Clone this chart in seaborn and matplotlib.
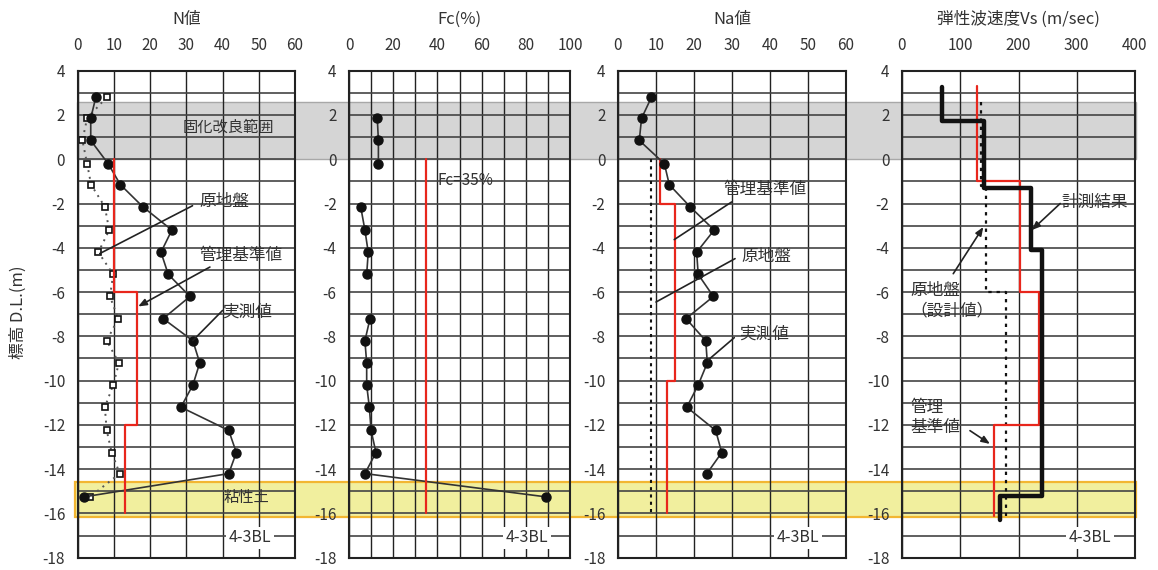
import numpy as np
import pandas as pd
import seaborn as sns
import matplotlib
matplotlib.use("Agg")
import matplotlib.pyplot as plt
from matplotlib.patches import Rectangle
from matplotlib.transforms import blended_transform_factory

# ---------------- data ----------------
depth = [2.8, 1.85, 0.85, -0.2, -1.15, -2.15, -3.2, -4.2, -5.2, -6.2, -7.2,
         -8.2, -9.2, -10.2, -11.2, -12.25, -13.25, -14.2, -15.25]
n_measured = [5, 3.6, 3.6, 8.4, 11.8, 18, 26, 23, 25, 31, 23.6, 31.8, 33.7,
              31.8, 28.5, 41.7, 43.8, 41.7, 1.8]
n_original = [8, 2.6, 1.3, 2.6, 3.7, 7.5, 8.7, 5.7, 9.8, 8.9, 11.2, 8, 11.4,
              9.8, 7.5, 8, 9.4, 11.6, 3.4]
fc_measured = [np.nan, 12.8, 13.3, 13.3, np.nan, 5.3, 7.2, 8.7, 8.0, np.nan,
               9.5, 7.2, 8.0, 8.0, 9.2, 10.0, 12.2, 7.2, 89]
na_measured = [8.8, 6.2, 5.6, 12.2, 13.5, 19, 25.3, 20.7, 21.1, 25.1, 17.9,
               23.1, 23.5, 21.1, 18.1, 25.7, 27.3, 23.4, np.nan]

n_limit_bounds = [0, -6, -12, -16]
n_limit_vals = [10, 16.5, 13]
fc_limit_bounds = [0, -16]
fc_limit_vals = [35]
na_limit_bounds = [0, -2, -10, -16]
na_limit_vals = [11, 15, 13]
na_original_bounds = [0, -16]
na_original_vals = [8.6]
vs_measured_bounds = [3.25, 1.75, -1.3, -4.1, -15.2, -16.3]
vs_measured_vals = [68, 140, 221, 240, 168]
vs_limit_bounds = [3.3, -1.0, -6.0, -12.0, -16.1]
vs_limit_vals = [128, 203, 235, 158]
vs_original_bounds = [2.6, -1.2, -6.0, -16.1]
vs_original_vals = [135, 145, 178]

titles = ["N値", "Fc(%)", "Na値", "弾性波速度Vs (m/sec)"]
xlims = [(0, 60), (0, 100), (0, 60), (0, 400)]
xgrid = [10, 10, 10, 100]
xlabel_step = [10, 20, 10, 100]
improved_zone = (0, 2.6)      # 固化改良範囲
clay_zone = (-16.15, -14.6)   # 粘性土
tag = "4-3BL"

# ---------------- style ----------------
sns.set_style("white")
plt.rcParams["font.family"] = ["Noto Sans CJK JP", "DejaVu Sans"]
TXT = "#333333"

W, H = 1158, 570
fig = plt.figure(figsize=(W / 100, H / 100), dpi=100)
top_px, bot_px = 70.7, 557.7
panels_px = [(77.7, 295), (349, 570), (618, 846), (902, 1135)]
axes = []
for (l, r) in panels_px:
    ax = fig.add_axes([l / W, 1 - bot_px / H, (r - l) / W, (bot_px - top_px) / H])
    ax.set_facecolor("none")
    axes.append(ax)


def steps(bounds, vals):
    xs, ys = [], []
    for i, v in enumerate(vals):
        xs += [v, v]
        ys += [bounds[i], bounds[i + 1]]
    return xs, ys


for i, ax in enumerate(axes):
    lo, hi = xlims[i]
    ax.set_xlim(lo, hi)
    ax.set_ylim(-18, 4)
    g = np.arange(lo, hi + 0.1, xgrid[i])
    ax.set_xticks(g)
    ax.set_xticklabels([f"{int(v)}" if (v % xlabel_step[i] == 0) else "" for v in g])
    ax.set_yticks(range(-18, 5))
    ax.set_yticklabels([f"{v}" if v % 2 == 0 else "" for v in range(-18, 5)])
    ax.xaxis.tick_top()
    ax.tick_params(axis="x", length=0, pad=12, labelsize=11, labelcolor=TXT)
    ax.tick_params(axis="y", length=0, pad=9, labelsize=11, labelcolor=TXT)
    ax.grid(True, axis="x", color="#222222", lw=1.0)
    ax.grid(True, axis="y", color="#444444", lw=1.2)
    for s in ax.spines.values():
        s.set_color("#222222")
        s.set_linewidth(1.5)
    ax.text(0.5, 1.105, titles[i], transform=ax.transAxes, ha="center",
            va="center", fontsize=12, color=TXT)

# figure-level bands behind the axes
tr = blended_transform_factory(fig.transFigure, axes[0].transData)
fig.add_artist(Rectangle((77 / W, improved_zone[0]), (1136 - 77) / W,
                         improved_zone[1] - improved_zone[0], transform=tr,
                         facecolor="#d5d5d5", edgecolor="#a8a8a8", lw=1.0, zorder=-5))
fig.add_artist(Rectangle((75 / W, clay_zone[0]), (1136 - 75) / W,
                         clay_zone[1] - clay_zone[0], transform=tr,
                         facecolor="#f1ef9e", edgecolor="#f2b632", lw=1.6, zorder=-5))

dot_kw = dict(marker="o", markersize=6.5, markerfacecolor="#111111",
              markeredgecolor="#111111", markeredgewidth=1, color="#333333",
              linewidth=1.2, sort=False, estimator=None, legend=False)
RED = "#e8261c"

# ---- Panel 1: N value ----
ax = axes[0]
sns.lineplot(x=n_original, y=depth, ax=ax, sort=False, estimator=None,
             color="#555555", linestyle=(0, (1, 2.5)), linewidth=1.4,
             marker="s", markersize=4.5, markerfacecolor="white",
             markeredgecolor="#111111", markeredgewidth=1.2)
sns.lineplot(x=n_measured, y=depth, ax=ax, **dot_kw)
xs, ys = steps(n_limit_bounds, n_limit_vals)
sns.lineplot(x=xs, y=ys, ax=ax, sort=False, estimator=None, color=RED, linewidth=1.6)

ann_kw = dict(fontsize=12, color=TXT, ha="left", va="center")
line_kw = dict(arrowstyle="-", color="#222222", lw=1.2, shrinkA=0, shrinkB=0)
arr_kw = dict(arrowstyle="-|>,head_length=0.5,head_width=0.2", color="#222222",
              lw=1.2, shrinkA=0, shrinkB=0)
ax.text(41.5, 1.45, "固化改良範囲", fontsize=11, color=TXT, ha="center", va="center")
ax.text(46.5, -15.3, "粘性土", fontsize=11, color=TXT, ha="center", va="center")
ax.text(33.5, -1.9, "原地盤", **ann_kw)
ax.annotate("", xy=(6.1, -4.26), xytext=(31.7, -2.1), arrowprops=line_kw)
ax.text(33.7, -4.35, "管理基準値", **ann_kw)
ax.annotate("", xy=(16.7, -6.65), xytext=(36.5, -4.87), arrowprops=arr_kw)
ax.text(40, -6.9, "実測値", **ann_kw)
ax.annotate("", xy=(31.8, -8.19), xytext=(40, -6.83), arrowprops=line_kw)

# ---- Panel 2: Fc ----
ax = axes[1]
fc_df = pd.DataFrame({"depth": depth, "fc": fc_measured})
seg = fc_df["fc"].isna().cumsum()
for _, part in fc_df.dropna().groupby(seg[fc_df["fc"].notna()]):
    sns.lineplot(data=part, x="fc", y="depth", ax=ax, **dot_kw)
xs, ys = steps(fc_limit_bounds, fc_limit_vals)
sns.lineplot(x=xs, y=ys, ax=ax, sort=False, estimator=None, color=RED, linewidth=1.6)
ax.text(40, -0.95, "Fc=35%", fontsize=11, color=TXT, ha="left", va="center")

# ---- Panel 3: Na ----
ax = axes[2]
xs, ys = steps(na_original_bounds, na_original_vals)
sns.lineplot(x=xs, y=ys, ax=ax, sort=False, estimator=None, color="#111111",
             linestyle=(0, (1.5, 2)), linewidth=1.5)
xs, ys = steps(na_limit_bounds, na_limit_vals)
sns.lineplot(x=xs, y=ys, ax=ax, sort=False, estimator=None, color=RED, linewidth=1.6)
na_df = pd.DataFrame({"depth": depth, "na": na_measured}).dropna()
sns.lineplot(data=na_df, x="na", y="depth", ax=ax, **dot_kw)
ax.text(27.6, -1.37, "管理基準値", **ann_kw)
ax.annotate("", xy=(14.8, -3.63), xytext=(29.9, -1.93), arrowprops=line_kw)
ax.text(32.5, -4.4, "原地盤", **ann_kw)
ax.annotate("", xy=(10, -6.45), xytext=(30.8, -4.49), arrowprops=line_kw)
ax.text(32, -7.88, "実測値", **ann_kw)
ax.annotate("", xy=(23.8, -9.06), xytext=(30.6, -8.06), arrowprops=line_kw)

# ---- Panel 4: Vs ----
ax = axes[3]
xs, ys = steps(vs_original_bounds, vs_original_vals)
sns.lineplot(x=xs, y=ys, ax=ax, sort=False, estimator=None, color="#111111",
             linestyle=(0, (1.5, 2.2)), linewidth=1.6)
xs, ys = steps(vs_limit_bounds, vs_limit_vals)
sns.lineplot(x=xs, y=ys, ax=ax, sort=False, estimator=None, color=RED, linewidth=1.6)
xs, ys = steps(vs_measured_bounds, vs_measured_vals)
sns.lineplot(x=xs, y=ys, ax=ax, sort=False, estimator=None, color="#111111", linewidth=3.2)
ax.text(274, -1.93, "計測結果", **ann_kw)
ax.annotate("", xy=(222.7, -3.2), xytext=(271.6, -2.0), arrowprops=arr_kw)
ax.text(13.7, -6.4, "原地盤\n（設計値）", linespacing=1.25, **ann_kw)
ax.annotate("", xy=(139.6, -3.06), xytext=(88, -5.17), arrowprops=arr_kw)
ax.text(13.7, -11.65, "管理\n基準値", linespacing=1.25, **ann_kw)
ax.annotate("", xy=(151, -12.86), xytext=(116.7, -12.26), arrowprops=arr_kw)

# tags
tag_x = [47.6, 80.5, 47.4, 322]
for ax, tx in zip(axes, tag_x):
    ax.text(tx, -17.1, tag, fontsize=11.5, color=TXT, ha="center", va="center",
            bbox=dict(facecolor="white", edgecolor="none", pad=2))
    ax.set_xlabel("")
    ax.set_ylabel("")

fig.text(18 / W, 1 - 312 / H, "標高 D.L.(m)", rotation=90, ha="center",
         va="center", fontsize=12, color=TXT)

fig.savefig("out.png", dpi=100)
